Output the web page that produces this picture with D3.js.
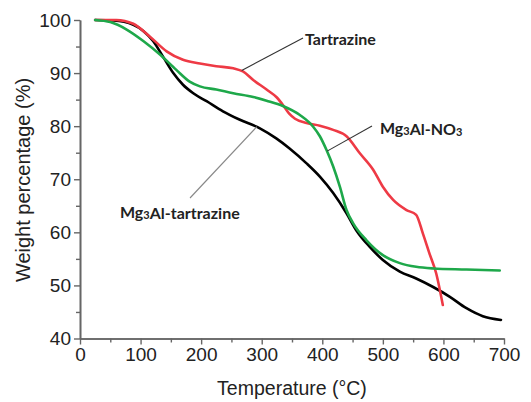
<!DOCTYPE html>
<html>
<head>
<meta charset="utf-8">
<script src="https://cdn.jsdelivr.net/npm/d3@7"></script>
<style>
  html, body { margin: 0; padding: 0; background: #fff; }
  svg { display: block; }
</style>
</head>
<body>
<svg id="chart" width="531" height="402"></svg>
<script>
// Thermogravimetric curves: temperature (°C) vs. remaining weight (%)
const tartrazineT = [25, 60, 88, 115, 143, 170, 198, 225, 253, 269, 286, 308, 325, 335, 345, 355, 374, 396, 418, 440, 462, 484, 500, 517, 539, 555, 566, 577, 588, 599];
const tartrazineW = [100, 100, 99.3, 96.9, 94.1, 92.5, 91.8, 91.3, 90.9, 90.3, 88.7, 86.9, 85.4, 84.0, 82.4, 81.4, 80.6, 80.1, 79.3, 78.1, 74.9, 71.8, 68.6, 66.1, 64.2, 63.3, 59.8, 56.0, 52.3, 46.3];

const no3T = [25, 50, 77, 105, 132, 159, 181, 198, 225, 253, 286, 308, 335, 363, 385, 396, 407, 418, 429, 440, 451, 473, 500, 528, 555, 583, 638, 693];
const no3W = [100, 99.6, 98.2, 96.0, 93.5, 90.6, 88.4, 87.5, 86.9, 86.2, 85.5, 84.8, 83.8, 82.1, 79.9, 78.1, 75.5, 72.4, 68.6, 64.2, 61.7, 58.5, 55.7, 54.2, 53.5, 53.2, 53.0, 52.8];

const ldhTartT = [25, 55, 88, 105, 121, 137, 154, 170, 187, 209, 236, 264, 297, 324, 346, 374, 396, 418, 440, 456, 478, 500, 528, 555, 583, 610, 638, 665, 695];
const ldhTartW = [100, 99.9, 99.1, 97.9, 96.0, 93.1, 90.0, 87.8, 86.2, 84.7, 82.8, 81.2, 79.6, 77.7, 75.8, 73.0, 70.5, 67.4, 63.6, 60.4, 57.3, 54.8, 52.6, 51.3, 49.7, 47.9, 45.7, 44.2, 43.5];

const xTicks = [0, 100, 200, 300, 400, 500, 600, 700];
const yTicks = [40, 50, 60, 70, 80, 90, 100];

const svg = d3.select("#chart");
const x = d3.scaleLinear().domain([0, 700]).range([80, 504]);
const y = d3.scaleLinear().domain([40, 100]).range([338.5, 20]);

const axisColor = "#666";
const tickFont = "Liberation Sans, Arial, sans-serif";

// Bottom axis: major ticks with labels, minor ticks in between
svg.append("g").attr("transform", `translate(0,${y(40)})`)
  .call(d3.axisBottom(x).tickValues(xTicks).tickSize(6).tickPadding(3).tickSizeOuter(0));
svg.append("g").attr("transform", `translate(0,${y(40)})`)
  .call(d3.axisBottom(x).tickValues(d3.range(50, 700, 100)).tickSize(4).tickFormat("").tickSizeOuter(0));

// Left axis
svg.append("g").attr("transform", `translate(${x(0)},0)`)
  .call(d3.axisLeft(y).tickValues(yTicks).tickSize(6).tickPadding(3).tickSizeOuter(0));
svg.append("g").attr("transform", `translate(${x(0)},0)`)
  .call(d3.axisLeft(y).tickValues(d3.range(45, 100, 10)).tickSize(4).tickFormat("").tickSizeOuter(0));

svg.selectAll(".domain").attr("stroke", axisColor).attr("stroke-width", 1.6);
svg.selectAll(".tick line").attr("stroke", axisColor).attr("stroke-width", 1.4);
svg.selectAll(".tick text")
  .attr("fill", "#222")
  .style("font-family", tickFont)
  .style("font-size", "19px");

// Axis titles
svg.append("text")
  .attr("x", 292).attr("y", 395)
  .attr("text-anchor", "middle")
  .style("font-family", tickFont).style("font-size", "19.5px").attr("fill", "#222")
  .text("Temperature (°C)");

svg.append("text")
  .attr("transform", `translate(30,${180}) rotate(-90)`)
  .attr("text-anchor", "middle")
  .style("font-family", tickFont).style("font-size", "20px").attr("fill", "#222")
  .text("Weight percentage (%)");

// Curves
const line = d3.line().x(d => x(d[0])).y(d => y(d[1])).curve(d3.curveMonotoneX);
const series = [
  { t: ldhTartT, w: ldhTartW, color: "#000000" },
  { t: tartrazineT, w: tartrazineW, color: "#ee3a45" },
  { t: no3T, w: no3W, color: "#1ea84a" }
];
series.forEach(s => {
  svg.append("path")
    .datum(d3.zip(s.t, s.w))
    .attr("fill", "none")
    .attr("stroke", s.color)
    .attr("stroke-width", 2.6)
    .attr("stroke-linejoin", "round")
    .attr("stroke-linecap", "round")
    .attr("d", line);
});

// Callout labels with leader lines
const labelFont = "Lato, 'Open Sans', sans-serif";
function leader(x1, y1, x2, y2, color) {
  svg.append("line")
    .attr("x1", x1).attr("y1", y1).attr("x2", x2).attr("y2", y2)
    .attr("stroke", color).attr("stroke-width", 1.1);
}
function label(px, py, parts) {
  const t = svg.append("text").attr("x", px).attr("y", py)
    .style("font-family", labelFont).style("font-weight", "bold")
    .style("font-size", "16px").attr("fill", "#222");
  parts.forEach(p => {
    if (p.sub) {
      t.append("tspan").style("font-size", "11px").attr("dy", 1).text(p.s);
      t.append("tspan").attr("dy", -1).text("");
    } else {
      t.append("tspan").text(p.s);
    }
  });
}

leader(x(267), y(90.5), 303, 38, "#333");
label(305, 45, [{ s: "Tartrazine" }]);

leader(x(408), y(75.3), 372, 126, "#333");
label(380, 134, [{ s: "Mg" }, { s: "3", sub: true }, { s: "Al-NO" }, { s: "3", sub: true }]);

leader(190, 198, x(292), y(79.9), "#888");
label(120, 218, [{ s: "Mg" }, { s: "3", sub: true }, { s: "Al-tartrazine" }]);
</script>
</body>
</html>
